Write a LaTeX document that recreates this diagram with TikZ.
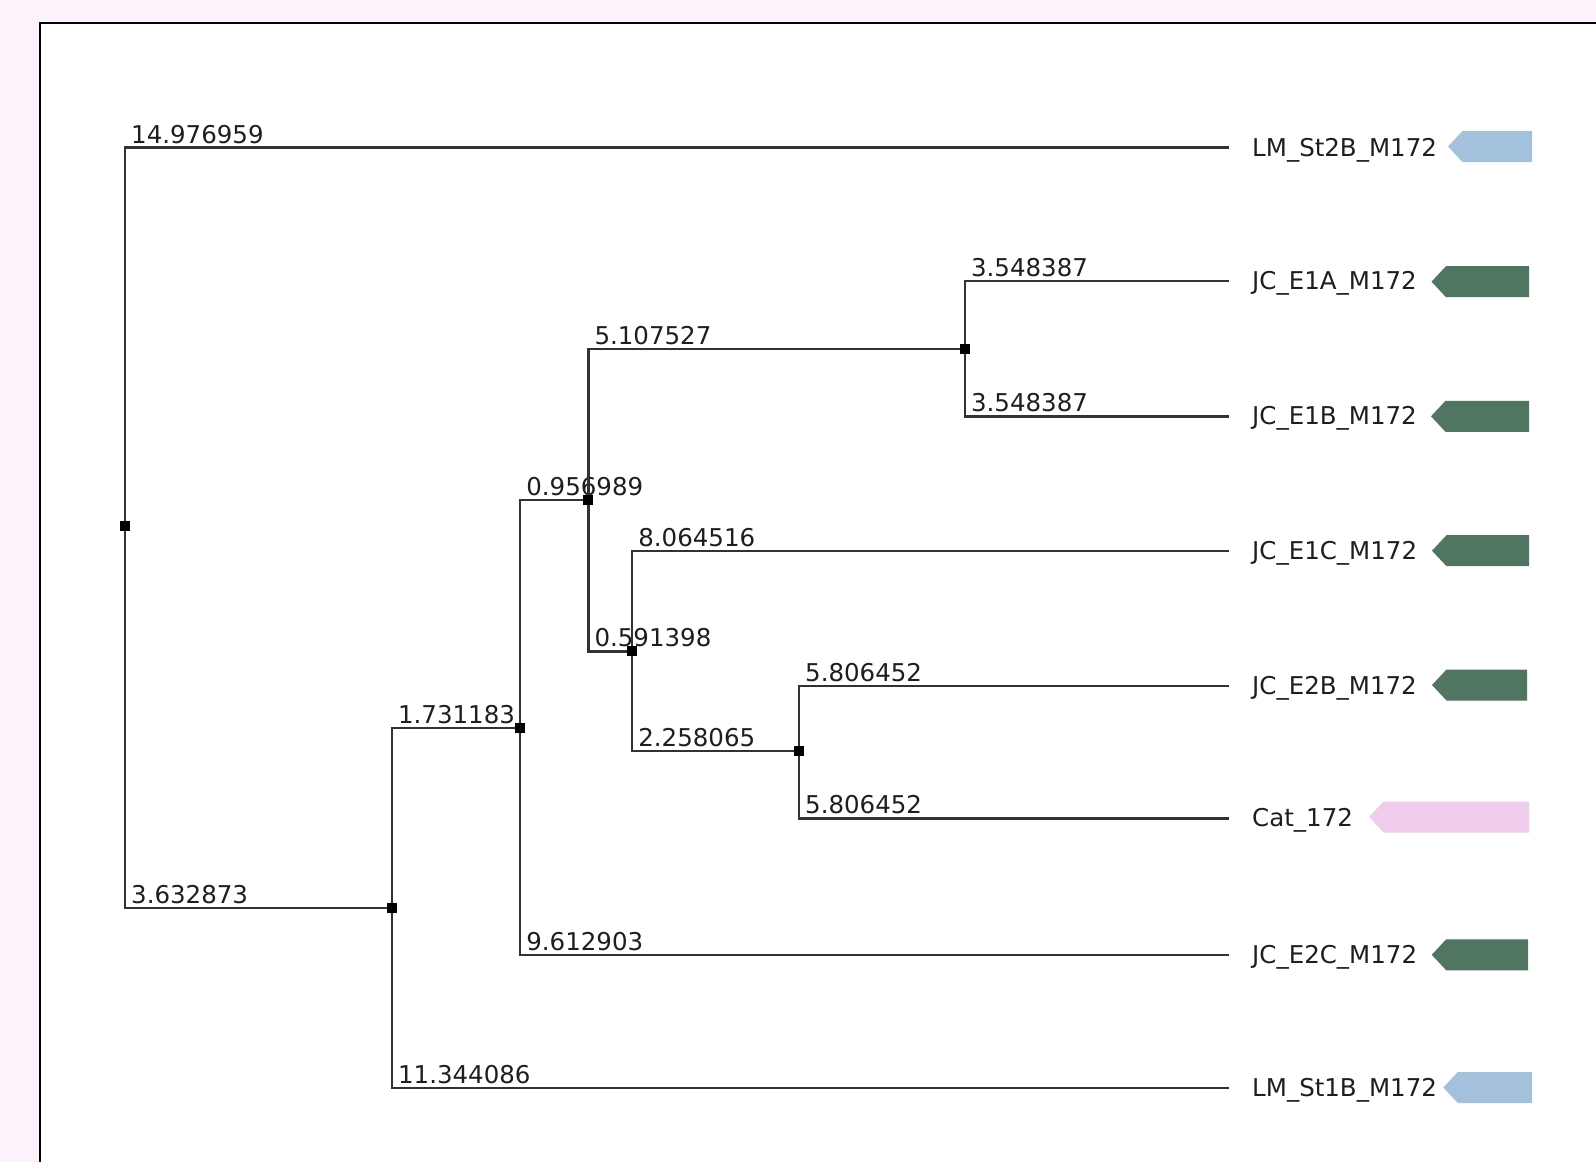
\documentclass[tikz,border=0pt]{standalone}
\usepackage{fontspec}
\setmainfont{DejaVu Sans}
\definecolor{bgpink}{RGB}{253,242,252}
\definecolor{leafblue}{RGB}{163,193,220}
\definecolor{leafgreen}{RGB}{80,117,97}
\definecolor{leafpink}{RGB}{240,205,237}
\definecolor{linegray}{RGB}{50,50,50}
\definecolor{textgray}{RGB}{30,30,30}
\newcommand\leaftag[4]{% color, tip x, right x, y
  \fill[#1] (#2,#4) -- ++(14.5,-15.5) -- (#3,#4-15.5) -- (#3,#4+15.5) -- (#2+14.5,#4+15.5) -- cycle;}
\begin{document}
\begin{tikzpicture}[x=1pt,y=-1pt,
  branch/.style={draw=linegray,line width=2.4pt},
  junction/.style={rectangle,fill=black,minimum size=10pt,inner sep=0pt,outer sep=0pt},
  blen/.style={anchor=base west,inner sep=0pt,font=\fontsize{24.5}{28}\selectfont,text=textgray,xshift=5pt,yshift=4.5pt},
  leaflab/.style={anchor=base west,inner sep=0pt,font=\fontsize{24.5}{28}\selectfont,text=textgray}]
\useasboundingbox (0,0) rectangle (1596,1162);
\fill[bgpink] (0,0) rectangle (1596,1162);
\begin{scope}
\clip (0,0) rectangle (1596,1162);
\draw[fill=white,draw=black,line width=2pt] (39.5,22.7) rectangle (1700,1300);
\end{scope}
% internal nodes
\node[junction] (r) at (125,526.2) {};
\node[junction] (a) at (391.9,907.9) {};
\node[junction] (b) at (520.1,727.8) {};
\node[junction] (c) at (588.3,499.8) {};
\node[junction] (d) at (964.9,349.1) {};
\node[junction] (e) at (632.1,651.4) {};
\node[junction] (f) at (799,751.2) {};
% leaf ends
\coordinate (l1) at (1228.6,147.6);
\coordinate (l2) at (1228.6,280.9);
\coordinate (l3) at (1228.6,416.3);
\coordinate (l4) at (1228.6,550.7);
\coordinate (l5) at (1228.6,686.0);
\coordinate (l6) at (1228.6,818.4);
\coordinate (l7) at (1228.6,954.8);
\coordinate (l8) at (1228.6,1088.1);
% branches
\draw[branch] (r.center) |- node[pos=0.5,blen]{14.976959} (l1);
\draw[branch] (r.center) |- node[pos=0.5,blen]{3.632873} (a.center);
\draw[branch] (a.center) |- node[pos=0.5,blen]{11.344086} (l8);
\draw[branch] (a.center) |- node[pos=0.5,blen]{1.731183} (b.center);
\draw[branch] (b.center) |- node[pos=0.5,blen]{0.956989} (c.center);
\draw[branch] (b.center) |- node[pos=0.5,blen]{9.612903} (l7);
\draw[branch] (c.center) |- node[pos=0.5,blen]{5.107527} (d.center);
\draw[branch] (c.center) |- node[pos=0.5,blen]{0.591398} (e.center);
\draw[branch] (d.center) |- node[pos=0.5,blen]{3.548387} (l2);
\draw[branch] (d.center) |- node[pos=0.5,blen]{3.548387} (l3);
\draw[branch] (e.center) |- node[pos=0.5,blen]{8.064516} (l4);
\draw[branch] (e.center) |- node[pos=0.5,blen]{2.258065} (f.center);
\draw[branch] (f.center) |- node[pos=0.5,blen]{5.806452} (l5);
\draw[branch] (f.center) |- node[pos=0.5,blen]{5.806452} (l6);
% junction squares on top
\foreach \n in {r,a,b,c,d,e,f} \fill[black] (\n.south west) rectangle (\n.north east);
% leaf labels
\node[leaflab] (t1) at (1252,156) {LM\_St2B\_M172};
\node[leaflab] (t2) at (1252,289.3) {JC\_E1A\_M172};
\node[leaflab] (t3) at (1252,424.7) {JC\_E1B\_M172};
\node[leaflab] (t4) at (1252,559.1) {JC\_E1C\_M172};
\node[leaflab] (t5) at (1252,694.4) {JC\_E2B\_M172};
\node[leaflab] (t6) at (1252,826.8) {Cat\_172};
\node[leaflab] (t7) at (1252,963.2) {JC\_E2C\_M172};
\node[leaflab] (t8) at (1252,1096.5) {LM\_St1B\_M172};
% tags
\leaftag{leafblue}{1448}{1532}{146.5}
\leaftag{leafgreen}{1431.5}{1529}{281.7}
\leaftag{leafgreen}{1431}{1529}{416.3}
\leaftag{leafgreen}{1432}{1529}{550.7}
\leaftag{leafgreen}{1432}{1527}{685}
\leaftag{leafpink}{1369}{1529}{817}
\leaftag{leafgreen}{1431.7}{1528}{954.8}
\leaftag{leafblue}{1443.3}{1532}{1087.5}
\end{tikzpicture}
\end{document}
